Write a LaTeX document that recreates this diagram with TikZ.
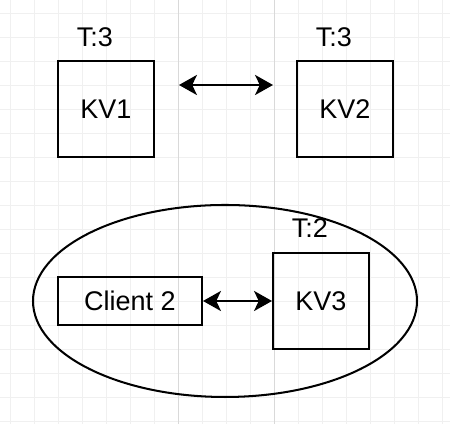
\documentclass[tikz,border=0pt]{standalone}
\usepackage{fontspec}
\setmainfont{Liberation Sans}
\usepackage{tikz}
\usetikzlibrary{positioning}
\usetikzlibrary{shapes.geometric}
\usetikzlibrary{arrows.meta}

\begin{document}
\begin{tikzpicture}[
  minorgrid/.style={draw=black!6, line width=0.5pt},
  majorgrid/.style={draw=black!15, line width=0.5pt},
  kvbox/.style={draw, line width=1.2pt, minimum width=2cm, minimum height=2cm, inner sep=0pt},
  clientbox/.style={draw, line width=1.2pt, minimum width=3cm, minimum height=1cm, inner sep=0pt},
  term/.style={inner sep=0pt},
  link/.style={line width=1.2pt, {Stealth[length=0.375cm, width=0.42cm, inset=0.1cm]}-{Stealth[length=0.375cm, width=0.42cm, inset=0.1cm]}},
  every node/.style={font=\fontsize{16}{19}\selectfont}
]

\useasboundingbox (0,0) rectangle (9.375,8.8333);

% background grid
\foreach \i in {0,...,18}
  \draw[minorgrid] ({0.2083+0.5*\i},0) -- ++(0,8.8333);
\foreach \j in {0,...,17}
  \draw[minorgrid] (0,{0.0625+0.5*\j}) -- ++(9.375,0);
\foreach \i in {7,11}
  \draw[majorgrid] ({0.2083+0.5*\i},0) -- ++(0,8.8333);

% partition
\node[draw, ellipse, line width=1.2pt, minimum width=8cm, minimum height=4cm](part) at (4.6875, 2.5625) {};

% top pair
\node[kvbox](kv1) at (2.2083, 6.5625) {KV1};
\node[kvbox](kv2) at (7.1875, 6.5625) {KV2};
\node[term, above=0.27cm of kv1.north, xshift=-0.23cm](t1) {T:3};
\node[term, above=0.27cm of kv2.north, xshift=-0.23cm](t2) {T:3};

\coordinate (l1) at (3.729, 7.0625);
\coordinate (l2) at (5.6875, 7.0625);
\draw[link] (l1) -- (l2);

% inside the partition
\node[clientbox](client) at (2.7083, 2.5625) {Client 2};
\node[kvbox](kv3) at (6.6875, 2.5625) {KV3};
\node[term, above=0.29cm of kv3.north, xshift=-0.23cm](t3) {T:2};

\draw[link] (client) -- (kv3);

\end{tikzpicture}
\end{document}
